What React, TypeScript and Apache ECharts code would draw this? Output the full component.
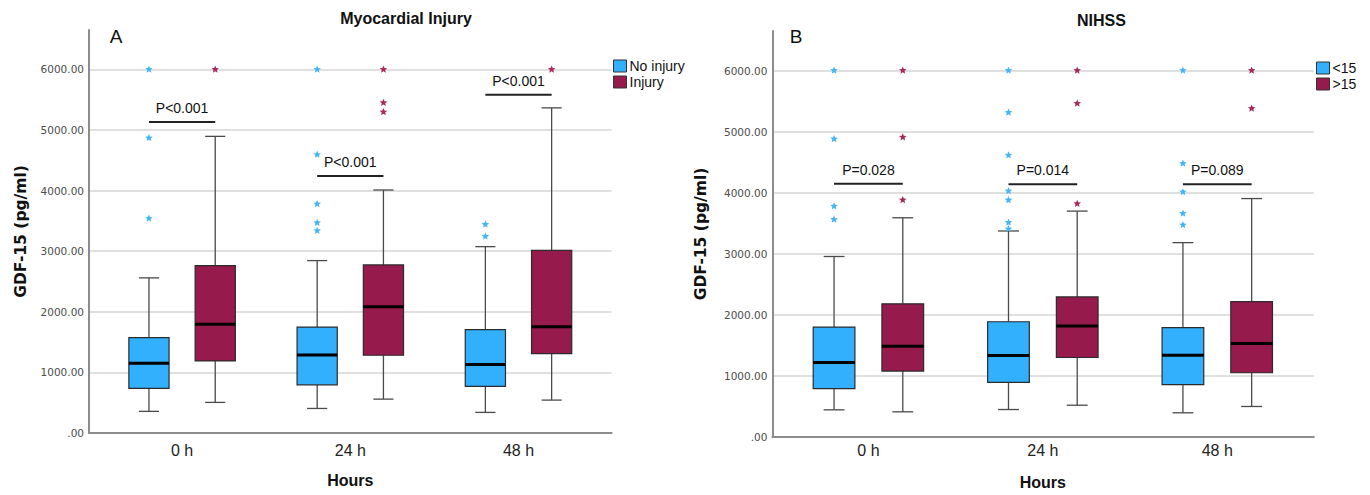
import React, { useEffect, useRef } from 'react';
import * as echarts from 'echarts';

// Categories
const hours = ['0 h', '24 h', '48 h'];

// Box summaries per time point: [min, Q1, median, Q3, max] (pg/ml)
const noInjuryBox = [
  [357, 735, 1151, 1574, 2560],
  [405, 795, 1288, 1748, 2845],
  [340, 768, 1130, 1705, 3075],
];
const injuryBox = [
  [505, 1190, 1793, 2763, 4895],
  [559, 1283, 2083, 2774, 4010],
  [543, 1311, 1755, 3015, 5365],
];
// Extreme values: [time index, value]
const noInjuryOutliers = [
  [0, 6000], [0, 4870], [0, 3540],
  [1, 6000], [1, 4594], [1, 3778], [1, 3470], [1, 3339],
  [2, 3443], [2, 3245],
];
const injuryOutliers = [
  [0, 6000],
  [1, 6000], [1, 5450], [1, 5296],
  [2, 6000],
];
const injuryPLabels = ['P<0.001', 'P<0.001', 'P<0.001'];
const injuryPLevels = [5130, 4240, 5580];

const nihssLowBox = [
  [399, 749, 1180, 1765, 2929],
  [404, 852, 1295, 1852, 3350],
  [350, 814, 1300, 1754, 3158],
];
const nihssHighBox = [
  [366, 1038, 1448, 2148, 3568],
  [475, 1262, 1781, 2262, 3678],
  [454, 1011, 1492, 2186, 3885],
];
const nihssLowOutliers = [
  [0, 6000], [0, 4869], [0, 3759], [0, 3541],
  [1, 6000], [1, 5306], [1, 4600], [1, 4010], [1, 3860], [1, 3490], [1, 3385],
  [2, 6000], [2, 4464], [2, 3995], [2, 3639], [2, 3448],
];
const nihssHighOutliers = [
  [0, 6000], [0, 4896], [0, 3863],
  [1, 6000], [1, 5453], [1, 3800],
  [2, 6000], [2, 5372],
];
const nihssPLabels = ['P=0.028', 'P=0.014', 'P=0.089'];
const nihssPLevels = [4131, 4120, 4120];

const BLUE = '#33b0fd';
const RED = '#961a4b';
const BLUE_STAR = '#45b6f5';
const RED_STAR = '#a82a5c';
const Y_MAX = 6650;
const BOX_SHIFT = 0.197; // fraction of band between group centre and box centre
const BOX_WIDTH = 0.239; // fraction of band

function boxSeries(name: string, data: number[][], color: string, side: number, axis: number) {
  return {
    type: 'custom',
    name,
    xAxisIndex: axis,
    yAxisIndex: axis,
    itemStyle: { color, borderColor: '#2b2b2b', borderWidth: 1 },
    encode: { x: 0, y: [1, 2, 3, 4, 5] },
    data: data.map((d, i) => [i, ...d]),
    renderItem: (params: any, api: any) => {
      const i = api.value(0);
      const band = api.size([1, 0])[0];
      const cx = api.coord([i, 0])[0] + side * band * BOX_SHIFT;
      const w = band * BOX_WIDTH;
      const cap = w / 4;
      const py = (k: number) => api.coord([i, api.value(k)])[1];
      const yMin = py(1), yQ1 = py(2), yMed = py(3), yQ3 = py(4), yMax = py(5);
      const whisker = { stroke: '#4a4a4a', lineWidth: 1.3 };
      return {
        type: 'group',
        children: [
          { type: 'line', shape: { x1: cx, y1: yQ3, x2: cx, y2: yMax }, style: whisker },
          { type: 'line', shape: { x1: cx - cap, y1: yMax, x2: cx + cap, y2: yMax }, style: whisker },
          { type: 'line', shape: { x1: cx, y1: yQ1, x2: cx, y2: yMin }, style: whisker },
          { type: 'line', shape: { x1: cx - cap, y1: yMin, x2: cx + cap, y2: yMin }, style: whisker },
          {
            type: 'rect',
            shape: { x: cx - w / 2, y: yQ3, width: w, height: yQ1 - yQ3 },
            style: { fill: color, stroke: '#2b2b2b', lineWidth: 1.2 },
          },
          {
            type: 'line',
            shape: { x1: cx - w / 2, y1: yMed, x2: cx + w / 2, y2: yMed },
            style: { stroke: '#000', lineWidth: 3 },
          },
        ],
      };
    },
  };
}

function starPoints(cx: number, cy: number, r: number) {
  const pts: number[][] = [];
  for (let k = 0; k < 10; k++) {
    const a = -Math.PI / 2 + (k * Math.PI) / 5;
    const rr = k % 2 === 0 ? r : r * 0.45;
    pts.push([cx + rr * Math.cos(a), cy + rr * Math.sin(a)]);
  }
  return pts;
}

function outlierSeries(name: string, data: number[][], color: string, side: number, axis: number) {
  return {
    type: 'custom',
    name,
    xAxisIndex: axis,
    yAxisIndex: axis,
    encode: { x: 0, y: 1 },
    data,
    z: 3,
    renderItem: (params: any, api: any) => {
      const band = api.size([1, 0])[0];
      const p = api.coord([api.value(0), api.value(1)]);
      const cx = p[0] + side * band * BOX_SHIFT;
      return {
        type: 'polygon',
        shape: { points: starPoints(cx, p[1], 4) },
        style: { fill: color },
      };
    },
  };
}

function pValueSeries(labels: string[], levels: number[], axis: number) {
  return {
    type: 'custom',
    name: 'p' + axis,
    xAxisIndex: axis,
    yAxisIndex: axis,
    encode: { x: 0, y: 1 },
    data: levels.map((v, i) => [i, v]),
    z: 4,
    renderItem: (params: any, api: any) => {
      const band = api.size([1, 0])[0];
      const p = api.coord([api.value(0), api.value(1)]);
      const half = band * BOX_SHIFT;
      return {
        type: 'group',
        children: [
          {
            type: 'line',
            shape: { x1: p[0] - half, y1: p[1], x2: p[0] + half, y2: p[1] },
            style: { stroke: '#222', lineWidth: 2 },
          },
          {
            type: 'text',
            x: p[0],
            y: p[1] - 14,
            style: {
              text: labels[params.dataIndex],
              fill: '#111',
              fontSize: 14,
              fontFamily: '"Liberation Sans", Arial, sans-serif',
              align: 'center',
              verticalAlign: 'middle',
            },
          },
        ],
      };
    },
  };
}

const tickFormatter = (v: number) => (v % 1000 !== 0 ? '' : v === 0 ? '.00' : v.toFixed(2));

function frameAxes(grid: number, nameGap: number) {
  const axisLine = { show: true, lineStyle: { color: '#8c8c8c', width: 2 } };
  return {
    x: {
      type: 'value', gridIndex: grid, min: 0, max: 1,
      axisLine, axisTick: { show: false }, axisLabel: { show: false }, splitLine: { show: false },
    },
    y: {
      type: 'value', gridIndex: grid, min: 0, max: Y_MAX, interval: 1000,
      axisLine, axisTick: { show: false },
      axisLabel: {
        formatter: tickFormatter, showMaxLabel: false, margin: 5,
        color: '#4d4d4d', fontSize: 10.5, fontFamily: '"DejaVu Sans", sans-serif',
      },
      splitLine: { show: true, showMinLine: false, showMaxLine: false, lineStyle: { color: '#d6d6d6', width: 1.5 } },
      name: 'GDF-15 (pg/ml)',
      nameLocation: 'middle',
      nameGap,
      nameTextStyle: { fontSize: 15.5, fontWeight: 'bold', color: '#111', fontFamily: '"DejaVu Sans", sans-serif' },
    },
  };
}

function dataAxes(grid: number, nameGap: number, labelMargin: number) {
  return {
    x: {
      type: 'category', gridIndex: grid, data: hours,
      axisLine: { show: false }, axisTick: { show: false },
      axisLabel: { fontSize: 16, margin: labelMargin, color: '#222', fontFamily: '"Liberation Sans", Arial, sans-serif' },
      name: 'Hours', nameLocation: 'middle', nameGap,
      nameTextStyle: { fontSize: 16, fontWeight: 'bold', color: '#111', fontFamily: '"Liberation Sans", Arial, sans-serif' },
    },
    y: { type: 'value', gridIndex: grid, min: 0, max: Y_MAX, show: false },
  };
}

export default function App() {
  const ref = useRef<HTMLDivElement>(null);

  useEffect(() => {
    if (!ref.current) return;
    const chart = echarts.init(ref.current, undefined, { renderer: 'svg' });

    const frameL = frameAxes(0, 60);
    const dataL = dataAxes(1, 39, 9);
    const frameR = frameAxes(2, 63);
    const dataR = dataAxes(3, 40, 8);

    const legendCommon = {
      orient: 'vertical',
      icon: 'rect',
      itemWidth: 13,
      itemHeight: 12,
      itemGap: 2,
      padding: 0,
      selectedMode: false,
      itemStyle: { borderColor: '#333', borderWidth: 1 },
      textStyle: { fontSize: 14, color: '#111', fontFamily: '"Liberation Sans", Arial, sans-serif', padding: [0, 0, 0, -2] },
    };

    const font = '"Liberation Sans", Arial, sans-serif';

    chart.setOption({
      animation: false,
      backgroundColor: '#fff',
      grid: [
        { left: 89, top: 30, width: 522.6, height: 403 },
        { left: 98, top: 30, width: 504.6, height: 403 },
        { left: 772.4, top: 31, width: 541.4, height: 406 },
        { left: 781.2, top: 31, width: 523.3, height: 406 },
      ],
      xAxis: [frameL.x, dataL.x, frameR.x, dataR.x],
      yAxis: [frameL.y, dataL.y, frameR.y, dataR.y],
      legend: [
        { ...legendCommon, left: 613, top: 59, data: ['No injury', 'Injury'] },
        { ...legendCommon, left: 1316, top: 61, data: ['<15', '>15'] },
      ],
      graphic: [
        { type: 'text', x: 406, y: 18, style: { text: 'Myocardial Injury', fill: '#111', font: `bold 16px ${font}`, align: 'center', verticalAlign: 'middle' } },
        { type: 'text', x: 1101.4, y: 20, style: { text: 'NIHSS', fill: '#111', font: `bold 16px ${font}`, align: 'center', verticalAlign: 'middle' } },
        { type: 'text', x: 116, y: 36, style: { text: 'A', fill: '#111', font: `19px ${font}`, align: 'center', verticalAlign: 'middle' } },
        { type: 'text', x: 796, y: 36, style: { text: 'B', fill: '#111', font: `19px ${font}`, align: 'center', verticalAlign: 'middle' } },
      ],
      series: [
        boxSeries('No injury', noInjuryBox, BLUE, -1, 1),
        boxSeries('Injury', injuryBox, RED, 1, 1),
        outlierSeries('No injury extremes', noInjuryOutliers, BLUE_STAR, -1, 1),
        outlierSeries('Injury extremes', injuryOutliers, RED_STAR, 1, 1),
        pValueSeries(injuryPLabels, injuryPLevels, 1),
        boxSeries('<15', nihssLowBox, BLUE, -1, 3),
        boxSeries('>15', nihssHighBox, RED, 1, 3),
        outlierSeries('<15 extremes', nihssLowOutliers, BLUE_STAR, -1, 3),
        outlierSeries('>15 extremes', nihssHighOutliers, RED_STAR, 1, 3),
        pValueSeries(nihssPLabels, nihssPLevels, 3),
      ],
    });

    return () => chart.dispose();
  }, []);

  return (
    <div
      ref={ref}
      style={{ position: 'fixed', left: 0, top: 0, width: 1370, height: 495, background: '#fff' }}
    />
  );
}
